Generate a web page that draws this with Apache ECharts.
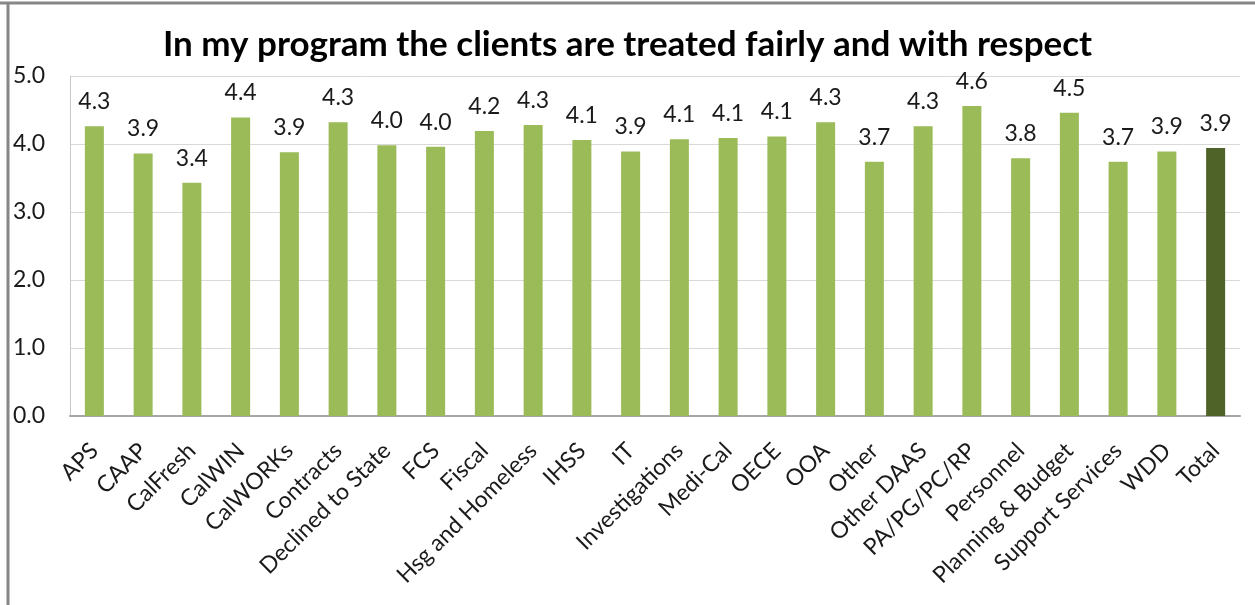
<!DOCTYPE html>
<html>
<head>
<meta charset="utf-8">
<script src="https://cdn.jsdelivr.net/npm/echarts@6/dist/echarts.min.js"></script>
<style>
  html, body { margin: 0; padding: 0; background: #fff; }
  #chart { width: 1255px; height: 605px; }
</style>
</head>
<body>
<div id="chart"></div>
<script>
// categories and mean scores
const categories = ['APS', 'CAAP', 'CalFresh', 'CalWIN', 'CalWORKs', 'Contracts', 'Declined to State',
  'FCS', 'Fiscal', 'Hsg and Homeless', 'IHSS', 'IT', 'Investigations', 'Medi-Cal', 'OECE', 'OOA',
  'Other', 'Other DAAS', 'PA/PG/PC/RP', 'Personnel', 'Planning & Budget', 'Support Services', 'WDD', 'Total'];
const scores = [4.26, 3.86, 3.43, 4.39, 3.88, 4.32, 3.98, 3.96, 4.19, 4.28, 4.06, 3.89, 4.07, 4.09,
  4.11, 4.32, 3.74, 4.26, 4.56, 3.79, 4.46, 3.74, 3.89, 3.94];
const yTicks = [0, 1, 2, 3, 4, 5];

const font = 'Lato, "Open Sans", sans-serif';
const green = '#9BBB59';
const darkGreen = '#4F6228';

const chart = echarts.init(document.getElementById('chart'));

chart.setOption({
  backgroundColor: '#fff',
  animation: false,
  title: {
    text: 'In my program the clients are treated fairly and with respect',
    left: 'center',
    top: 22,
    textStyle: { fontFamily: font, fontSize: 35, fontWeight: 'bold', color: '#000' }
  },
  grid: { left: 70, right: 15, top: 76, bottom: 189 },
  xAxis: {
    type: 'category',
    data: categories,
    axisLine: { lineStyle: { color: '#A6A6A6', width: 2 } },
    axisTick: { show: false },
    axisLabel: {
      rotate: 45,
      interval: 0,
      margin: 31,
      fontFamily: font,
      fontSize: 23,
      color: '#1a1a1a'
    }
  },
  yAxis: {
    type: 'value',
    min: yTicks[0],
    max: yTicks[yTicks.length - 1],
    interval: 1,
    axisLine: { show: true, lineStyle: { color: '#C8C8C8', width: 1 } },
    axisTick: { show: false },
    splitLine: { lineStyle: { color: '#D9D9D9', width: 1 } },
    axisLabel: {
      margin: 25,
      fontFamily: font,
      fontSize: 23,
      color: '#1a1a1a',
      formatter: v => v.toFixed(1)
    }
  },
  series: [{
    type: 'bar',
    barWidth: '39%',
    data: scores.map((v, i) => ({
      value: v,
      itemStyle: { color: categories[i] === 'Total' ? darkGreen : green }
    })),
    label: {
      show: true,
      position: 'top',
      distance: 13,
      fontFamily: font,
      fontSize: 23,
      color: '#1a1a1a',
      formatter: p => p.value.toFixed(1)
    }
  }],
  graphic: [
    { type: 'line', shape: { x1: 0, y1: 3, x2: 1255, y2: 3 }, style: { stroke: '#868686', lineWidth: 3 } },
    { type: 'line', shape: { x1: 8, y1: 2, x2: 8, y2: 605 }, style: { stroke: '#868686', lineWidth: 3 } }
  ]
});
</script>
</body>
</html>
